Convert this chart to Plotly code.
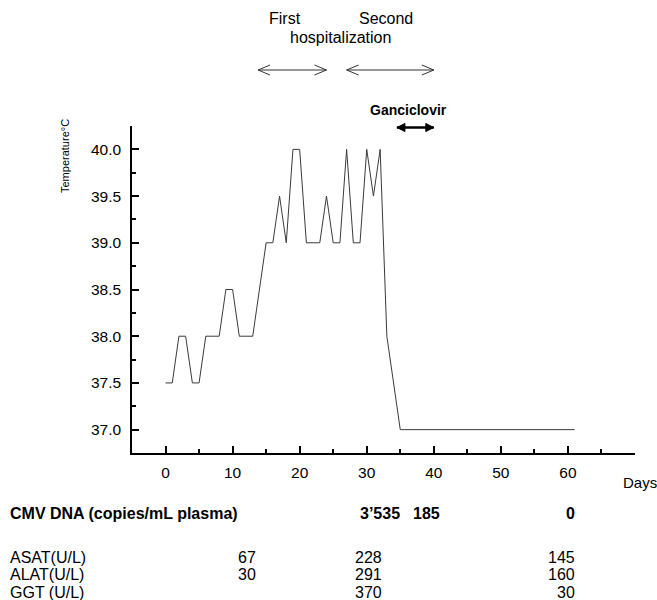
import plotly.graph_objects as go

# ---------------- data ----------------
days = [0, 1, 2, 3, 4, 5, 6, 7, 8, 9, 10, 11, 12, 13, 15, 16, 17, 18, 19, 20,
        21, 22, 23, 24, 25, 26, 27, 28, 29, 30, 31, 32, 33, 35, 61]
temps = [37.5, 37.5, 38.0, 38.0, 37.5, 37.5, 38.0, 38.0, 38.0, 38.5, 38.5, 38.0,
         38.0, 38.0, 39.0, 39.0, 39.5, 39.0, 40.0, 40.0, 39.0, 39.0, 39.0, 39.5,
         39.0, 39.0, 40.0, 39.0, 39.0, 40.0, 39.5, 40.0, 38.0, 37.0, 37.0]

x_tickvals = [0, 10, 20, 30, 40, 50, 60, 70]
x_ticktext = ["0", "10", "20", "30", "40", "50", "60", ""]
x_minor = [5, 15, 25, 35, 45, 55, 65]
y_tickvals = [37.0, 37.5, 38.0, 38.5, 39.0, 39.5, 40.0]
y_minor = [37.25, 37.75, 38.25, 38.75, 39.25, 39.75]

first_hosp = [13.8, 24.0]
second_hosp = [27.0, 40.0]
ganciclovir = [34.5, 40.0]

cmv_label = "CMV DNA (copies/mL plasma)"
cmv_values = ["3\u2019535", "185", "0"]
cmv_cols = [35.3, 41.2, 61.3]

lab_names = ["ASAT(U/L)", "ALAT(U/L)", "GGT (U/L)"]
asat = ["67", "228", "145"]
alat = ["30", "291", "160"]
ggt = ["", "370", "30"]
lab_cols = [13.8, 32.5, 61.3]

# ---------------- layout geometry ----------------
W, H = 657, 600
ML, MR, MT, MB = 132, 22, 126, 147
PW, PH = W - ML - MR, H - MT - MB
FONT = "Liberation Sans, Arial, sans-serif"


def pxx(p):
    return (p - ML) / PW


def pxy(p):
    return (H - MB - p) / PH


fig = go.Figure()
fig.add_trace(go.Scatter(x=days, y=temps, mode="lines",
                         line=dict(color="#3a3a3a", width=1),
                         hoverinfo="skip", showlegend=False))

axis_common = dict(showline=True, linecolor="black", linewidth=1.5,
                   ticks="inside", ticklen=7, tickwidth=1.5, tickcolor="black",
                   showgrid=False, zeroline=False,
                   tickfont=dict(family=FONT, size=15.5, color="black"))

fig.update_xaxes(range=[-5, 70], tickmode="array", tickvals=x_tickvals,
                 ticktext=x_ticktext, ticklabelstandoff=5,
                 minor=dict(tickmode="array", tickvals=x_minor, ticks="inside",
                            ticklen=4, tickwidth=1.5, tickcolor="black"),
                 **axis_common)
fig.update_yaxes(range=[36.75, 40.25], tickmode="array", tickvals=y_tickvals,
                 tickformat=".1f", ticklabelstandoff=6,
                 minor=dict(tickmode="array", tickvals=y_minor, ticks="inside",
                            ticklen=4, tickwidth=1.5, tickcolor="black"),
                 **axis_common)

ann = []


def text(x, y, s, xref="paper", size=16, bold=False, xanchor="center", angle=0):
    ann.append(dict(x=x, y=y, xref=xref, yref="paper", text=f"<b>{s}</b>" if bold else s,
                    showarrow=False, xanchor=xanchor, yanchor="middle",
                    textangle=angle,
                    font=dict(family=FONT, size=size, color="black")))


# axis titles
text(pxx(65), pxy(156), "Temperature\u00b0C", size=11, angle=-90)
text(pxx(621), pxy(482), "Days", xanchor="left", size=15)

# top annotations
text(pxx(285), pxy(18), "First")
text(pxx(386), pxy(18), "Second")
text(pxx(340), pxy(37), "hospitalization")
text(pxx(408), pxy(110), "Ganciclovir", size=14, bold=True)

# bottom table
text(pxx(8), pxy(513), cmv_label, bold=True, xanchor="left")
for xv, s in zip(cmv_cols, cmv_values):
    text(xv, pxy(513), s, xref="x", bold=True, xanchor="right")
row_y = [557, 574, 592]
for name, vals, ry in zip(lab_names, [asat, alat, ggt], row_y):
    text(pxx(8), pxy(ry), name, xanchor="left")
    for xv, s in zip(lab_cols, vals):
        if s:
            text(xv, pxy(ry), s, xref="x", xanchor="right")

fig.update_layout(annotations=ann)

# arrows
shapes = []


def arrow(span, ypx, filled=False):
    a, b = span
    yp = pxy(ypx)
    lw = 2.5 if filled else 1
    col = "black" if filled else "#333333"
    shapes.append(dict(type="line", xref="x", yref="paper", x0=a, x1=b, y0=yp, y1=yp,
                       line=dict(color=col, width=lw)))
    if filled:
        hl, hh = 8, 4
        left = f"M 0,0 L {hl},{hh} L {hl},{-hh} Z"
        right = f"M 0,0 L {-hl},{hh} L {-hl},{-hh} Z"
    else:
        hl, hh = 12, 5
        left = f"M {hl},{hh} L 0,0 L {hl},{-hh}"
        right = f"M {-hl},{hh} L 0,0 L {-hl},{-hh}"
    for anchor, path in [(a, left), (b, right)]:
        shapes.append(dict(type="path", xref="x", yref="paper",
                           xsizemode="pixel", ysizemode="pixel",
                           xanchor=anchor, yanchor=yp, path=path,
                           fillcolor=col if filled else "rgba(0,0,0,0)",
                           line=dict(color=col, width=1)))


arrow(first_hosp, 70)
arrow(second_hosp, 70)
arrow(ganciclovir, 127.5, filled=True)
fig.update_layout(shapes=shapes)

fig.update_layout(width=W, height=H, margin=dict(l=ML, r=MR, t=MT, b=MB, pad=0),
                  plot_bgcolor="white", paper_bgcolor="white",
                  showlegend=False, hovermode=False,
                  font=dict(family=FONT, color="black"))

fig.write_html("out.html", config={"displayModeBar": False},
               post_script="document.body.style.margin='0px';"
                           "document.body.style.overflow='hidden';")
